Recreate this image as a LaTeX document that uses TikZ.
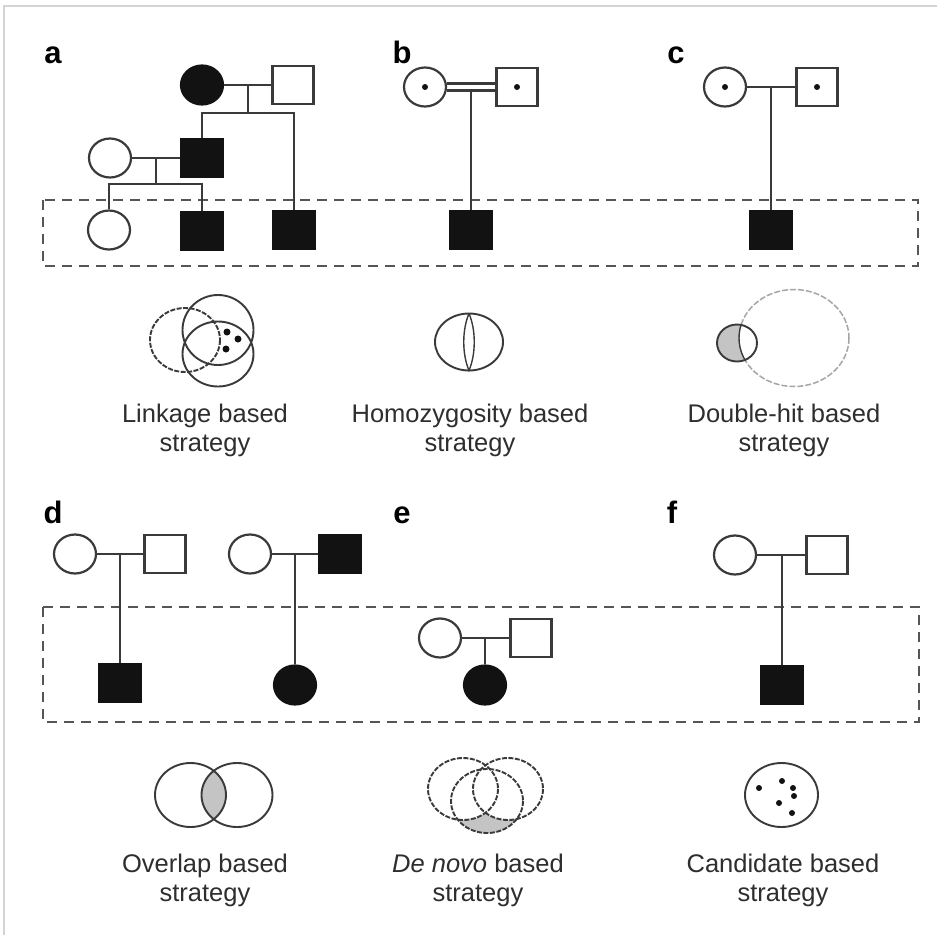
\documentclass[tikz,border=0pt]{standalone}
\usepackage{fontspec}
\setmainfont{Liberation Sans}
\usetikzlibrary{shapes.geometric}
\definecolor{lc}{HTML}{3A3A3A}
\definecolor{affc}{HTML}{121212}
\definecolor{boxc}{HTML}{555555}
\definecolor{greyfill}{HTML}{C4C4C4}
\definecolor{txtc}{HTML}{2E2E2E}
\definecolor{framec}{HTML}{D4D4D4}
\tikzset{
  ln/.style={draw=lc, line width=2.2pt},
  fem/.style={ellipse, draw=lc, line width=2.2pt, minimum width=42pt, minimum height=39pt, inner sep=0pt, fill=white},
  mal/.style={rectangle, draw=lc, line width=2.2pt, minimum width=41pt, minimum height=38pt, inner sep=0pt, fill=white},
  aff/.style={fill=affc, draw=affc},
  plab/.style={anchor=base, inner sep=0pt, text=black, font=\fontsize{31}{31}\selectfont\bfseries},
  captxt/.style={anchor=base, inner sep=0pt, text=txtc, font=\fontsize{25.5}{29}\selectfont},
  dbox/.style={draw=boxc, line width=2.5pt, dash pattern=on 10pt off 7pt},
  vsolid/.style={draw=lc, line width=1.9pt},
  vdash/.style={draw=lc, line width=1.9pt, dash pattern=on 5pt off 1.5pt},
  ldash/.style={draw=gray!70, line width=1.5pt, dash pattern=on 6pt off 2pt},
  kdot/.style={fill=affc}
}
\begin{document}
\begin{tikzpicture}[x=1pt,y=-1pt]
\useasboundingbox (0,0) rectangle (937,935);
\fill[white] (0,0) rectangle (937,935);
% frame
\draw[framec, line width=2pt] (4,935) -- (4,6) -- (937,6);

% dashed boxes
\draw[dbox] (43,200) rectangle (918,266);
\draw[dbox] (43,607) rectangle (919,722);

% panel labels
\node[plab] (la) at (53,63) {a};
\node[plab] (lb) at (402,63) {b};
\node[plab] (lc) at (676,63) {c};
\node[plab] (ld) at (53,523) {d};
\node[plab] (le) at (402,523) {e};
\node[plab] (lf) at (672,523) {f};

% ---------- panel a ----------
\node[fem,aff] (a1) at (202,85) {};
\node[mal] (a2) at (293,85) {};
\node[mal,aff] (a3) at (202,158) {};
\node[fem] (a4) at (110,158) {};
\node[fem] (a5) at (109,230) {};
\node[mal,aff] (a6) at (294,230) {};
\node[mal,aff] (a7) at (202,231) {};
\coordinate (ja) at (248,85);
\coordinate (sa) at (248,113);
\coordinate (jb) at (156,158);
\coordinate (sb) at (156,184);
\draw[ln] (a1.east) -- (a2.west);
\draw[ln] (ja) -- (sa);
\draw[ln] (a3.north) |- (sa) -| (a6.north);
\draw[ln] (a4.east) -- (a3.west);
\draw[ln] (jb) -- (sb);
\draw[ln] (a5.north) |- (sb) -| (a7.north);

% ---------- panel b ----------
\node[fem] (b1) at (425,87) {};
\node[mal] (b2) at (517,87) {};
\node[mal,aff] (b3) at (471,230) {};
\fill[affc] (b1.center) circle (3pt);
\fill[affc] (b2.center) circle (3pt);
\coordinate (jbb) at (471,90.5);
\draw[ln] ([yshift=3.5pt]b1.east) -- ([yshift=3.5pt]b2.west);
\draw[ln] ([yshift=-3.5pt]b1.east) -- ([yshift=-3.5pt]b2.west);
\draw[ln] (jbb) -- (b3.north);

% ---------- panel c ----------
\node[fem] (c1) at (725,87) {};
\node[mal] (c2) at (817,87) {};
\node[mal,aff] (c3) at (771,230) {};
\fill[affc] (c1.center) circle (3pt);
\fill[affc] (c2.center) circle (3pt);
\coordinate (jc) at (771,87);
\draw[ln] (c1.east) -- (c2.west);
\draw[ln] (jc) -- (c3.north);

% ---------- panel d ----------
\node[fem] (d1) at (75,554) {};
\node[mal] (d2) at (165,554) {};
\node[mal,aff] (d3) at (120,683) {};
\coordinate (jd) at (120,554);
\draw[ln] (d1.east) -- (d2.west);
\draw[ln] (jd) -- (d3.north);
\node[fem] (d4) at (250,554) {};
\node[mal,aff] (d5) at (340,554) {};
\node[fem,aff] (d6) at (295,685) {};
\coordinate (jd2) at (295,554);
\draw[ln] (d4.east) -- (d5.west);
\draw[ln] (jd2) -- (d6.north);

% ---------- panel e ----------
\node[fem] (e1) at (440,638) {};
\node[mal] (e2) at (531,638) {};
\node[fem,aff] (e3) at (485,685) {};
\coordinate (je) at (485,638);
\draw[ln] (e1.east) -- (e2.west);
\draw[ln] (je) -- (e3.north);

% ---------- panel f ----------
\node[fem] (f1) at (735,555) {};
\node[mal] (f2) at (827,555) {};
\node[mal,aff] (f3) at (782,685) {};
\coordinate (jf) at (782,555);
\draw[ln] (f1.east) -- (f2.west);
\draw[ln] (jf) -- (f3.north);

% ---------- venn row 1 ----------
% linkage
\draw[vdash] (185,340) ellipse [x radius=35, y radius=32];
\draw[vsolid] (218,330) ellipse [x radius=35.5, y radius=35];
\draw[vsolid] (218,354) ellipse [x radius=35.5, y radius=32.5];
\fill[kdot] (227,332) circle (3.5pt);
\fill[kdot] (238,339) circle (3.5pt);
\fill[kdot] (226,349) circle (3.5pt);
% homozygosity
\draw[vsolid] (469,342) ellipse [x radius=34, y radius=28.5];
\draw[vsolid, line width=1.4pt] (469,313.5) .. controls (476,330) and (476,354) .. (469,370.5)
  .. controls (462,354) and (462,330) .. (469,313.5);
% double hit
\draw[ldash] (794,338) ellipse [x radius=55, y radius=48.5];
\begin{scope}
  \clip (737,343) ellipse [x radius=20, y radius=18.5];
  \fill[greyfill] (700,300) rectangle (780,390);
  \fill[white] (794,338) ellipse [x radius=55, y radius=48.5];
  \draw[vsolid, line width=1.4pt] (794,338) ellipse [x radius=55, y radius=48.5];
\end{scope}
\draw[vsolid] (737,343) ellipse [x radius=20, y radius=18.5];

% ---------- venn row 2 ----------
% overlap
\begin{scope}
  \clip (190.5,795) ellipse [x radius=35.5, y radius=32];
  \fill[greyfill] (237,795) ellipse [x radius=35.5, y radius=32];
\end{scope}
\draw[vsolid] (190.5,795) ellipse [x radius=35.5, y radius=32];
\draw[vsolid] (237,795) ellipse [x radius=35.5, y radius=32];
% de novo
\fill[greyfill] (487,801) ellipse [x radius=36, y radius=32];
\fill[white] (463,789) ellipse [x radius=35, y radius=31];
\fill[white] (508,789) ellipse [x radius=35, y radius=31];
\draw[vdash] (463,789) ellipse [x radius=35, y radius=31];
\draw[vdash] (508,789) ellipse [x radius=35, y radius=31];
\draw[vdash] (487,801) ellipse [x radius=36, y radius=32];
% candidate
\draw[vsolid] (781.5,795) ellipse [x radius=36.5, y radius=32];
\fill[kdot] (759,788) circle (3pt);
\fill[kdot] (782,781) circle (3pt);
\fill[kdot] (793,788) circle (3pt);
\fill[kdot] (794,796) circle (3pt);
\fill[kdot] (779,803) circle (3pt);
\fill[kdot] (792,813) circle (3pt);

% ---------- captions ----------
\node[captxt] (t1a) at (205,422) {Linkage based};
\node[captxt] (t1b) at (205,451) {strategy};
\node[captxt] (t2a) at (470,422) {Homozygosity based};
\node[captxt] (t2b) at (470,451) {strategy};
\node[captxt] (t3a) at (784,422) {Double-hit based};
\node[captxt] (t3b) at (784,451) {strategy};
\node[captxt] (t4a) at (205,872) {Overlap based};
\node[captxt] (t4b) at (205,901) {strategy};
\node[captxt] (t5a) at (478,872) {\textit{De novo} based};
\node[captxt] (t5b) at (478,901) {strategy};
\node[captxt] (t6a) at (783,872) {Candidate based};
\node[captxt] (t6b) at (783,901) {strategy};
\end{tikzpicture}
\end{document}
